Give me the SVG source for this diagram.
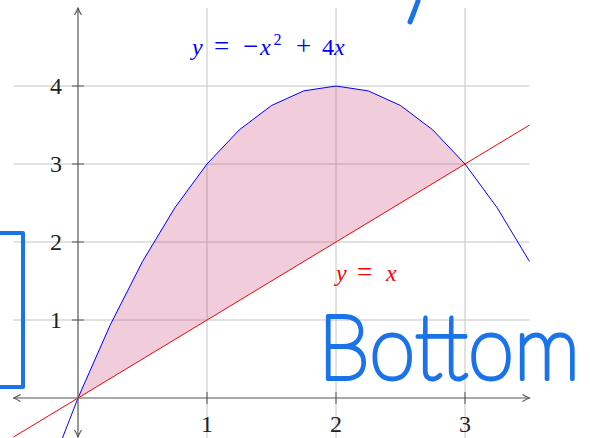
<svg xmlns="http://www.w3.org/2000/svg" width="590" height="438" viewBox="0 0 590 438">
<style>
.grid{stroke:#c4c4c4;stroke-width:1;fill:none}
.axis{stroke:#555;stroke-width:1.2;fill:none}
.tick{stroke:#555;stroke-width:1;fill:none}
.num{font-family:"Liberation Serif","DejaVu Serif",serif;font-size:24px;fill:#222;text-anchor:middle}
.math{font-family:"Liberation Serif","DejaVu Serif",serif;font-size:24px}
.it{font-style:italic}
.ink{stroke:#1a73e8;fill:none;stroke-linecap:round;stroke-linejoin:round}
</style>
<defs>
<marker id="chev" viewBox="0 0 10 10" refX="9" refY="5" markerWidth="10" markerHeight="10" markerUnits="userSpaceOnUse" orient="auto-start-reverse">
<path d="M2,1.5 Q6,4 9,5 Q6,6 2,8.5" fill="none" stroke="#555" stroke-width="1.1"/>
</marker>
</defs>
<rect width="590" height="438" fill="#fff"/>
<g id="grid">
<path class="grid" d="M207,8V438M336,8V438M465,8V438M13.5,86H529.5M13.5,164H529.5M13.5,242H529.5M13.5,320H529.5"/>
</g>
<g id="region">
<polygon points="78,398 110.25,324.875 142.5,261.5 174.75,207.875 207,164 239.25,129.875 271.5,105.5 303.75,90.875 336,86 368.25,90.875 400.5,105.5 432.75,129.875 465,164" fill="#c8326e" fill-opacity="0.25"/>
</g>
<g id="connectors">
<polyline id="parabola" points="45.75,480.9 78,398 110.25,324.875 142.5,261.5 174.75,207.875 207,164 239.25,129.875 271.5,105.5 303.75,90.875 336,86 368.25,90.875 400.5,105.5 432.75,129.875 465,164 497.25,207.875 529.5,261.5" fill="none" stroke="#0000ff" stroke-width="1"/>
<line id="diag" x1="13.5" y1="437" x2="529.5" y2="125" stroke="#ff0000" stroke-width="1"/>
</g>
<g id="axes">
<line class="axis" x1="13.5" y1="398" x2="529.5" y2="398" marker-start="url(#chev)" marker-end="url(#chev)"/>
<line class="axis" x1="78" y1="437" x2="78" y2="8" marker-start="url(#chev)" marker-end="url(#chev)"/>
<path class="tick" d="M207,392V404M336,392V404M465,392V404M72,86H84M72,164H84M72,242H84M72,320H84"/>
</g>
<g id="ticklabels">
<text class="num" x="207" y="432">1</text>
<text class="num" x="336" y="432">2</text>
<text class="num" x="465" y="432">3</text>
<text class="num" x="56" y="328">1</text>
<text class="num" x="56" y="250">2</text>
<text class="num" x="56" y="172">3</text>
<text class="num" x="56" y="94">4</text>
</g>
<g id="label-parabola" class="math" fill="#0000ff">
<text x="192" y="55"><tspan class="it">y</tspan></text>
<text x="214" y="55" font-size="27">=</text>
<text x="243" y="55" font-size="27">−</text>
<text x="260" y="55"><tspan class="it">x</tspan></text>
<text x="273.5" y="45" font-size="16">2</text>
<text x="296" y="55" font-size="27">+</text>
<text x="322" y="55">4</text>
<text x="334" y="55"><tspan class="it">x</tspan></text>
</g>
<g id="label-line" class="math" fill="#ff0000">
<text x="336" y="281"><tspan class="it">y</tspan></text>
<text x="357" y="281" font-size="27">=</text>
<text x="386" y="281"><tspan class="it">x</tspan></text>
</g>
<g id="annotations">
<rect class="ink" x="-10" y="233" width="33" height="154" stroke-width="4" stroke-linecap="butt" stroke-linejoin="miter"/>
<path class="ink" d="M418,1 L414,12 L410,22" stroke-width="5"/>
<text transform="translate(318,379) scale(0.92,1)" x="0" y="0" font-family="Lato, Inter, Roboto, sans-serif" font-weight="100" font-size="91" fill="#1a73e8" stroke="#1a73e8" stroke-width="4" stroke-linejoin="round">Bottom</text>
</g>
</svg>
